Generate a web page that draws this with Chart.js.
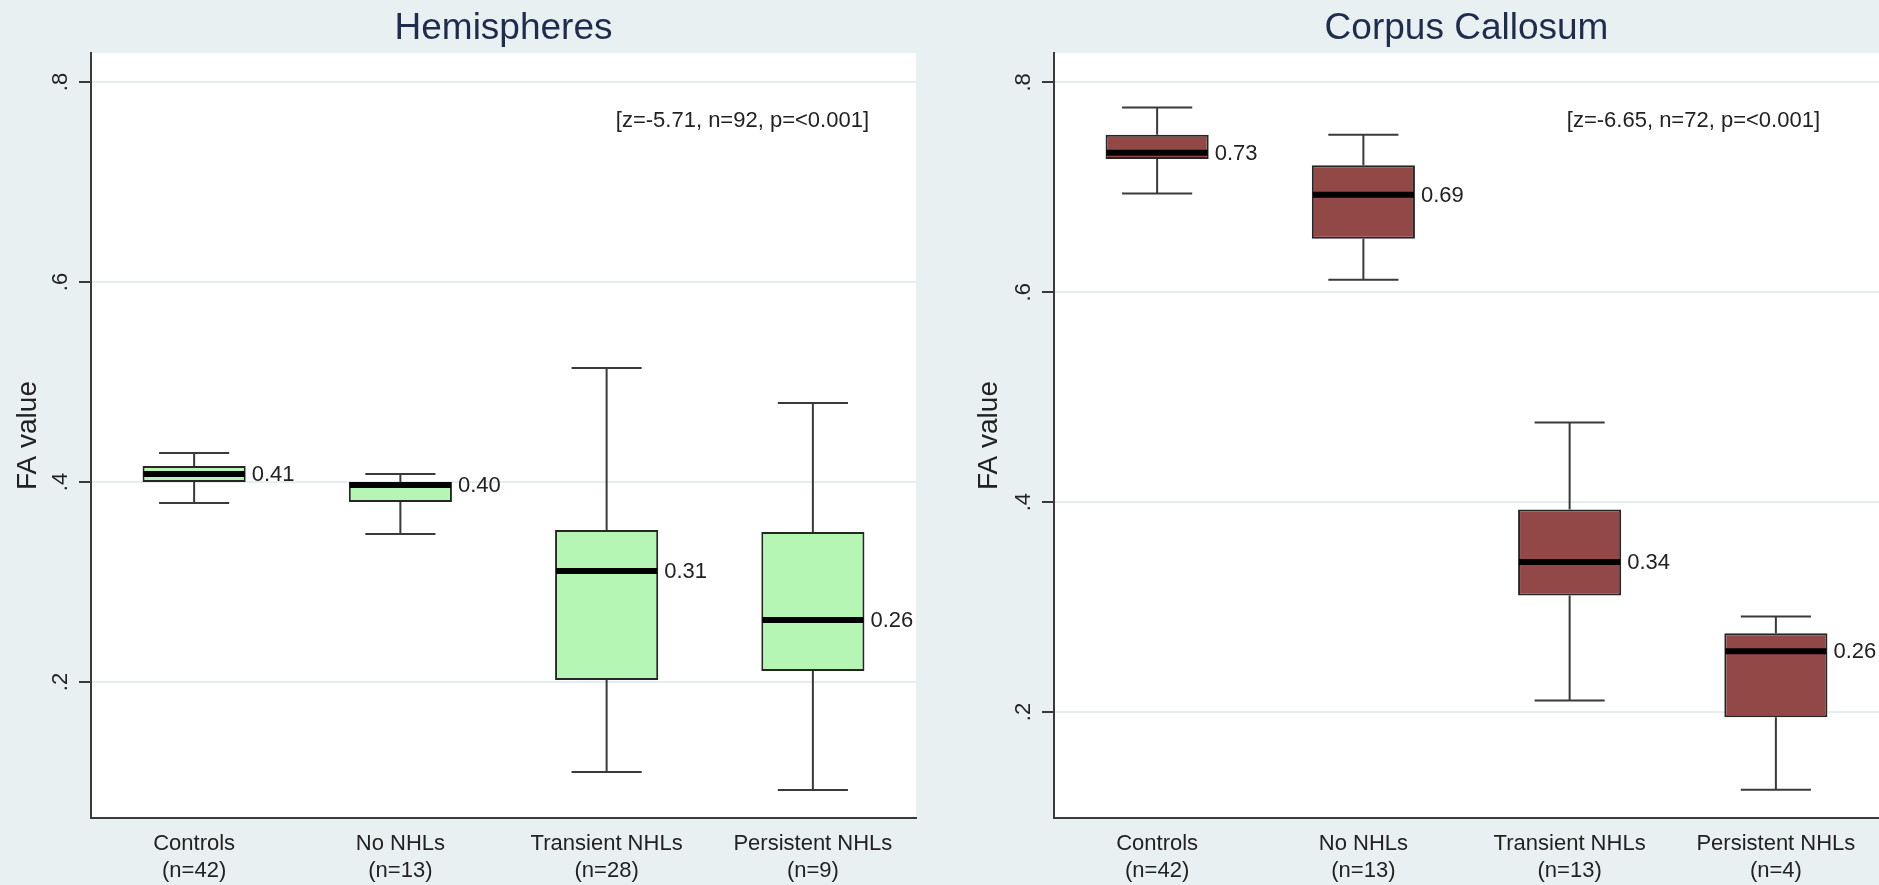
<!DOCTYPE html>
<html>
<head>
<meta charset="utf-8">
<title>FA value box plots</title>
<script src="https://cdn.jsdelivr.net/npm/chart.js@4.4.1/dist/chart.umd.min.js"></script>
<style>
    body { margin: 0; background: #e9f0f2; width: 1879px; height: 885px; overflow: hidden; }
    canvas { position: absolute; top: 0; }
    #hemiChart { left: 0; }
    #ccChart { left: 939px; }
</style>
</head>
<body>
<canvas id="hemiChart" width="940" height="885"></canvas>
<canvas id="ccChart" width="940" height="885"></canvas>
<script>
// shared axis ticks
const yTicks = [0.2, 0.4, 0.6, 0.8];
const yTickLabels = ['.2', '.4', '.6', '.8'];

// Hemispheres
const hemiCategories = [['Controls', '(n=42)'], ['No NHLs', '(n=13)'], ['Transient NHLs', '(n=28)'], ['Persistent NHLs', '(n=9)']];
const hemiMin = [0.379, 0.348, 0.110, 0.092];
const hemiQ1 = [0.400, 0.380, 0.202, 0.211];
const hemiMedian = [0.408, 0.397, 0.311, 0.262];
const hemiQ3 = [0.416, 0.400, 0.352, 0.350];
const hemiMax = [0.429, 0.408, 0.514, 0.479];

// Corpus Callosum
const ccCategories = [['Controls', '(n=42)'], ['No NHLs', '(n=13)'], ['Transient NHLs', '(n=13)'], ['Persistent NHLs', '(n=4)']];
const ccMin = [0.694, 0.612, 0.211, 0.126];
const ccQ1 = [0.727, 0.651, 0.311, 0.195];
const ccMedian = [0.733, 0.693, 0.343, 0.258];
const ccQ3 = [0.750, 0.721, 0.393, 0.275];
const ccMax = [0.776, 0.750, 0.476, 0.291];

const FONT = "'Liberation Sans', Arial, sans-serif";
const BG = '#e9f0f2';
const AXIS = '#3a3a3a';
const TEXT = '#222222';

// whiskers, caps, medians, labels and rotated y ticks
const boxPlugin = {
    id: 'boxExtras',
    beforeDraw(chart) {
        const { ctx, chartArea: a } = chart;
        ctx.save();
        ctx.fillStyle = BG;
        ctx.fillRect(0, 0, chart.width, chart.height);
        ctx.fillStyle = '#ffffff';
        ctx.fillRect(a.left, a.top, a.right - a.left, a.bottom - a.top);
        ctx.restore();
    },
    beforeDatasetsDraw(chart) {
        const o = chart.options.plugins.boxExtras;
        const { ctx } = chart;
        const y = chart.scales.y;
        const capHalf = (chart.scales.x.width / o.mins.length) * 0.17;
        ctx.save();
        ctx.strokeStyle = AXIS;
        ctx.lineWidth = 2;
        chart.getDatasetMeta(0).data.forEach((bar, i) => {
            const yMin = y.getPixelForValue(o.mins[i]);
            const yMax = y.getPixelForValue(o.maxs[i]);
            const yQ1 = y.getPixelForValue(o.q1[i]);
            const yQ3 = y.getPixelForValue(o.q3[i]);
            ctx.beginPath();
            ctx.moveTo(bar.x, yQ3); ctx.lineTo(bar.x, yMax);
            ctx.moveTo(bar.x, yQ1); ctx.lineTo(bar.x, yMin);
            ctx.moveTo(bar.x - capHalf, yMax); ctx.lineTo(bar.x + capHalf, yMax);
            ctx.moveTo(bar.x - capHalf, yMin); ctx.lineTo(bar.x + capHalf, yMin);
            ctx.stroke();
        });
        ctx.restore();
    },
    afterDatasetsDraw(chart) {
        const o = chart.options.plugins.boxExtras;
        const { ctx } = chart;
        const y = chart.scales.y;
        ctx.save();
        chart.getDatasetMeta(0).data.forEach((bar, i) => {
            const half = bar.width / 2;
            const yMed = y.getPixelForValue(o.medians[i]);
            ctx.strokeStyle = '#000000';
            ctx.lineWidth = 6;
            ctx.beginPath();
            ctx.moveTo(bar.x - half + 1, yMed);
            ctx.lineTo(bar.x + half - 1, yMed);
            ctx.stroke();
            ctx.fillStyle = TEXT;
            ctx.font = '22px ' + FONT;
            ctx.textAlign = 'left';
            ctx.textBaseline = 'middle';
            ctx.fillText(o.medians[i].toFixed(2), bar.x + half + 6, yMed + 1);
        });
        ctx.restore();
    },
    afterDraw(chart) {
        const o = chart.options.plugins.boxExtras;
        const { ctx, chartArea: a } = chart;
        const y = chart.scales.y;
        ctx.save();
        // rotated tick labels
        ctx.fillStyle = TEXT;
        ctx.font = '22px ' + FONT;
        ctx.textAlign = 'center';
        ctx.textBaseline = 'alphabetic';
        yTicks.forEach((v, i) => {
            ctx.save();
            ctx.translate(a.left - 24, y.getPixelForValue(v));
            ctx.rotate(-Math.PI / 2);
            ctx.fillText(yTickLabels[i], 0, 0);
            ctx.restore();
        });
        // title
        ctx.fillStyle = '#1f2d4d';
        ctx.font = '37px ' + FONT;
        ctx.textBaseline = 'middle';
        ctx.fillText(o.title, (a.left + a.right) / 2, 29);
        // test statistics
        ctx.fillStyle = TEXT;
        ctx.font = '22px ' + FONT;
        ctx.textAlign = 'right';
        ctx.fillText(o.stats, a.right - o.statsInset, a.top + 68);
        ctx.restore();
    }
};

function makeBoxChart(id, cfg) {
    const el = document.getElementById(id);
    if (!el) return;
    new Chart(el.getContext('2d'), {
        type: 'bar',
        data: {
            labels: cfg.categories,
            datasets: [{
                label: cfg.title,
                data: cfg.q1.map((v, i) => [v, cfg.q3[i]]),
                backgroundColor: cfg.color,
                borderColor: '#262626',
                borderWidth: 2,
                borderSkipped: false,
                barPercentage: 0.5,
                categoryPercentage: 1.0
            }]
        },
        plugins: [boxPlugin],
        options: {
            responsive: false,
            animation: false,
            layout: { padding: { top: 53, right: cfg.padRight, left: 0, bottom: 0 } },
            plugins: {
                legend: { display: false },
                title: { display: false },
                tooltip: { enabled: false },
                boxExtras: {
                    title: cfg.title,
                    stats: cfg.stats,
                    statsInset: cfg.statsInset,
                    mins: cfg.min,
                    q1: cfg.q1,
                    medians: cfg.median,
                    q3: cfg.q3,
                    maxs: cfg.max
                }
            },
            scales: {
                x: {
                    grid: { display: false, drawTicks: false },
                    border: { display: true, color: AXIS, width: 2 },
                    ticks: {
                        color: TEXT,
                        padding: 12,
                        maxRotation: 0,
                        font: { family: FONT, size: 22, lineHeight: 1.25 }
                    },
                    afterFit: (s) => { s.height = 67; }
                },
                y: {
                    min: cfg.yMin,
                    max: cfg.yMax,
                    afterBuildTicks: (s) => { s.ticks = yTicks.map(v => ({ value: v })); },
                    ticks: { display: false },
                    grid: {
                        color: '#e6edf0',
                        lineWidth: 2,
                        tickColor: AXIS,
                        tickWidth: 2,
                        tickLength: 12
                    },
                    border: { display: true, color: AXIS, width: 2 },
                    title: {
                        display: true,
                        text: 'FA value',
                        color: TEXT,
                        font: { family: FONT, size: 28 },
                        padding: { top: cfg.titlePad, bottom: 0 }
                    },
                    afterFit: (s) => { s.width = cfg.axisWidth; }
                }
            }
        }
    });
}

function initCharts() {
    makeBoxChart('hemiChart', {
        title: 'Hemispheres',
        stats: '[z=-5.71, n=92, p=<0.001]',
        categories: hemiCategories,
        min: hemiMin, q1: hemiQ1, median: hemiMedian, q3: hemiQ3, max: hemiMax,
        color: '#b5f6b5',
        yMin: 0.064, yMax: 0.829,
        axisWidth: 91, padRight: 24, titlePad: 11, statsInset: 47
    });
    makeBoxChart('ccChart', {
        title: 'Corpus Callosum',
        stats: '[z=-6.65, n=72, p=<0.001]',
        categories: ccCategories,
        min: ccMin, q1: ccQ1, median: ccMedian, q3: ccQ3, max: ccMax,
        color: '#934848',
        yMin: 0.099, yMax: 0.828,
        axisWidth: 115, padRight: 0, titlePad: 33, statsInset: 59
    });
}

document.addEventListener('DOMContentLoaded', initCharts);
</script>
</body>
</html>
